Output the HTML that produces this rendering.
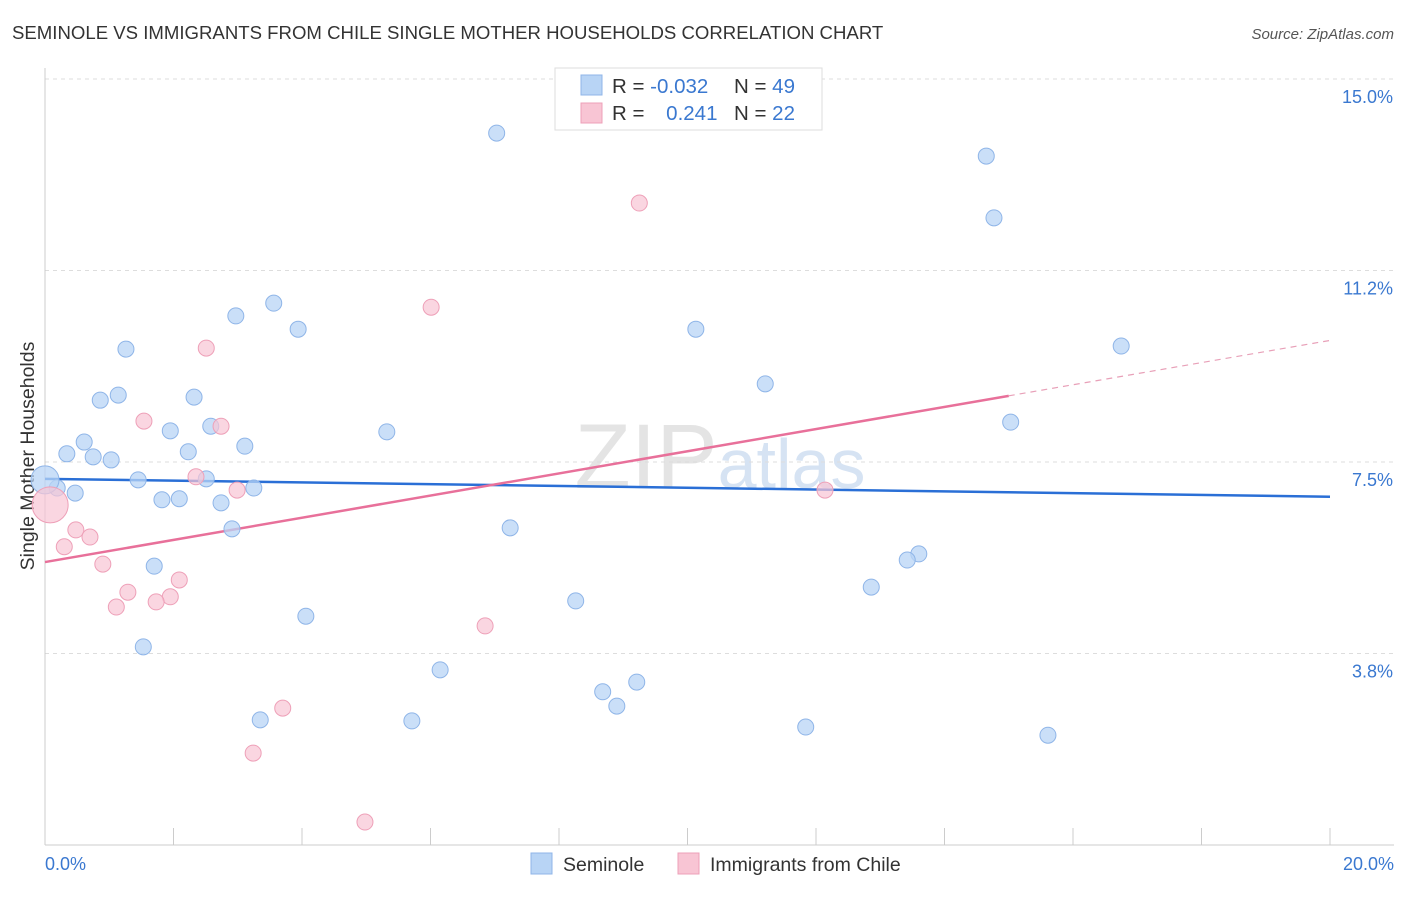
<!DOCTYPE html>
<html><head><meta charset="utf-8"><style>
body{margin:0;background:#fff;font-family:"Liberation Sans",sans-serif}
svg text{font-family:"Liberation Sans",sans-serif}
</style></head><body>
<svg id="chart" width="1406" height="892" xmlns="http://www.w3.org/2000/svg">
<text x="12" y="39" font-size="18.6" fill="#333">SEMINOLE VS IMMIGRANTS FROM CHILE SINGLE MOTHER HOUSEHOLDS CORRELATION CHART</text>
<text x="1394" y="39" font-size="15" fill="#555" text-anchor="end" font-style="italic">Source: ZipAtlas.com</text>
<text x="720" y="488" font-size="92" fill="#e8e8ec" text-anchor="middle" font-family="Liberation Serif"><tspan fill="#e4e4e4">ZIP</tspan><tspan fill="#d6e3f3" font-family="Liberation Sans" font-size="70">atlas</tspan></text>
<g id="grid"></g>
<g id="axes"></g>
<text transform="translate(34,456) rotate(-90)" font-size="19.5" fill="#333" text-anchor="middle">Single Mother Households</text>
<g id="lines"></g>
<g id="points"></g>
<g>
<rect x="555" y="68" width="267" height="62" fill="#fff" stroke="#ddd"/>
<rect x="581" y="75" width="21" height="20" fill="#b8d4f5" stroke="#8fb5e8"/>
<text x="612" y="93" font-size="20.5" fill="#333">R = <tspan fill="#3a78d0">-0.032</tspan></text>
<text x="734" y="93" font-size="20.5" fill="#333">N = <tspan fill="#3a78d0">49</tspan></text>
<rect x="581" y="103" width="21" height="20" fill="#f8c5d4" stroke="#eea0b8"/>
<text x="612" y="120" font-size="20.5" fill="#333">R = <tspan fill="#3a78d0" dx="16">0.241</tspan></text>
<text x="734" y="120" font-size="20.5" fill="#333">N = <tspan fill="#3a78d0">22</tspan></text>
</g>
<g>
<rect x="531" y="853" width="21" height="21" fill="#b8d4f5" stroke="#8fb5e8"/>
<text x="563" y="871" font-size="19.5" fill="#333">Seminole</text>
<rect x="678" y="853" width="21" height="21" fill="#f8c5d4" stroke="#eea0b8"/>
<text x="710" y="871" font-size="19.5" fill="#333">Immigrants from Chile</text>
</g>
</svg>
<script>
const blueX=[7.03,14.65,14.77,3.56,2.97,3.94,10.13,16.75,1.26,11.21,1.14,0.86,2.32,2.58,1.95,5.32,0.61,3.11,0.34,0.75,2.23,1.03,1.45,2.51,15.03,0.19,0.47,3.25,1.82,2.09,2.74,2.91,7.24,13.60,13.42,1.70,8.26,12.86,4.06,1.53,6.15,9.21,8.68,8.90,3.35,5.71,11.84,15.61,0];
const blueY=[13.94,13.49,12.28,10.61,10.36,10.10,10.10,9.77,9.71,9.03,8.81,8.71,8.77,8.20,8.11,8.09,7.89,7.81,7.66,7.60,7.70,7.54,7.15,7.17,8.28,6.99,6.89,6.99,6.76,6.78,6.70,6.19,6.21,5.70,5.58,5.46,4.78,5.05,4.48,3.88,3.43,3.19,3.00,2.72,2.45,2.43,2.31,2.15,7.15];
const pinkX=[9.25,6.01,2.51,1.54,2.74,2.35,2.99,12.14,0.48,0.70,0.30,0.90,2.09,1.29,1.95,1.73,1.11,6.85,3.70,3.24,4.98,0.08];
const pinkY=[12.57,10.53,9.73,8.30,8.20,7.21,6.95,6.95,6.17,6.03,5.84,5.50,5.19,4.95,4.86,4.76,4.66,4.29,2.68,1.80,0.45,6.66];
const yTicks=[3.75,7.5,11.25,15];
const yTickLabels=["3.8%","7.5%","11.2%","15.0%"];
const blueTrend=[7.17,6.82];
const pinkTrend=[5.54,9.88];
const pinkSolidEnd=15;
const NS="http://www.w3.org/2000/svg";
const sx=v=>45+v*64.25, sy=v=>845-v*51.07;
function mk(tag,attrs,parent){const e=document.createElementNS(NS,tag);for(const k in attrs)e.setAttribute(k,attrs[k]);document.getElementById(parent).appendChild(e);return e;}
yTicks.forEach((t,i)=>{
 const l=mk('line',{x1:45,x2:1394,y1:sy(t),y2:sy(t),stroke:'#ddd','stroke-dasharray':'4,4'},'grid');
 
 
 const tx=mk('text',{x:1393,y:sy(t)+24,'font-size':18,fill:'#3a78d0','text-anchor':'end'},'grid');
 tx.textContent=yTickLabels[i];
 
 
});
const ax=mk('line',{x1:45,x2:1394,y1:845,y2:845,stroke:'#ccc'},'axes');


const ay=mk('line',{x1:45,x2:45,y1:68,y2:845,stroke:'#ccc'},'axes');


for(let i=0;i<=10;i++){
 const tk=mk('line',{x1:sx(i*2),x2:sx(i*2),y1:828,y2:845,stroke:'#ccc'},'axes');
 
 
}
[[0,"0.0%",'start',45],[20,"20.0%",'end',1394]].forEach(a=>{
 const t=mk('text',{x:a[3],y:870,'font-size':18,fill:'#3a78d0','text-anchor':a[2]},'axes');
 t.textContent=a[1];
 
 
});
const bl=mk('line',{x1:sx(0),y1:sy(blueTrend[0]),x2:sx(20),y2:sy(blueTrend[1]),stroke:'#2a6fd6','stroke-width':2.5},'lines');


const pm=pinkTrend[0]+(pinkTrend[1]-pinkTrend[0])*pinkSolidEnd/20;
const pl=mk('line',{x1:sx(0),y1:sy(pinkTrend[0]),x2:sx(pinkSolidEnd),y2:sy(pm),stroke:'#e8709a','stroke-width':2.5},'lines');


const pd=mk('line',{x1:sx(pinkSolidEnd),y1:sy(pm),x2:sx(20),y2:sy(pinkTrend[1]),stroke:'#e8a0b8','stroke-width':1.2,'stroke-dasharray':'6,5'},'lines');


blueX.forEach((x,i)=>{
 const big=i===blueX.length-1;
 const c=mk('circle',{cx:sx(x),cy:sy(blueY[i]),r:big?14:8,fill:'#b8d4f5','fill-opacity':0.75,stroke:'#8fb5e8','stroke-width':1},'points');
 
 
});
pinkX.forEach((x,i)=>{
 const big=i===pinkX.length-1;
 const c=mk('circle',{cx:sx(x),cy:sy(pinkY[i]),r:big?18:8,fill:'#f8c5d4','fill-opacity':0.7,stroke:'#eea0b8','stroke-width':1},'points');
 
 
});
</script>
</body></html>
